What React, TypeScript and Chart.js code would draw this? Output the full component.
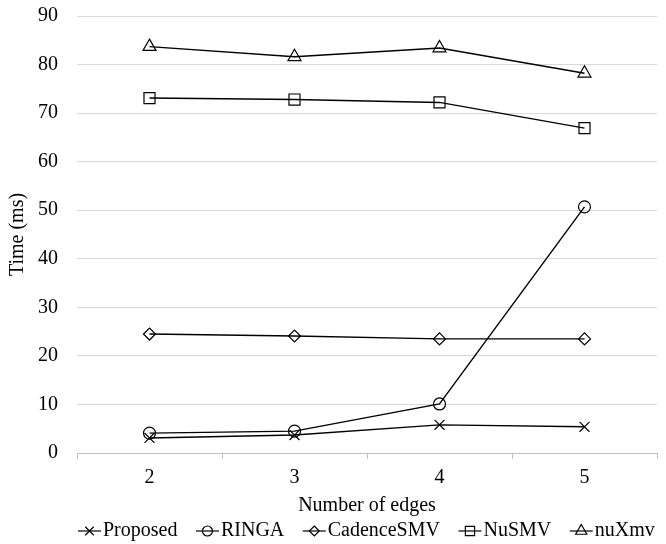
import React, { useEffect, useRef } from "react";
import { Chart, registerables } from "chart.js";

Chart.register(...registerables);

const categories = ["2", "3", "4", "5"];
const proposed = [3.1, 3.7, 5.8, 5.4];
const ringa = [4.1, 4.5, 10.1, 50.7];
const cadenceSMV = [24.5, 24.1, 23.5, 23.5];
const nuSMV = [73.1, 72.8, 72.2, 66.9];
const nuXmv = [83.7, 81.6, 83.4, 78.2];
const seriesNames = ["Proposed", "RINGA", "CadenceSMV", "NuSMV", "nuXmv"];
const yTicks = [0, 10, 20, 30, 40, 50, 60, 70, 80, 90];

const FONT = "'Liberation Serif', 'DejaVu Serif', serif";

const styles = ["crossRot", "circle", "rectRot", "rect", "triangle"];
const radii = [7, 6, 6, 7.8, 7.5];
const legendRadii = [6, 5, 5, 6.5, 6.5];

function drawShape(ctx: CanvasRenderingContext2D, style: string, x: number, y: number, r: number) {
  ctx.beginPath();
  if (style === "crossRot") {
    const o = Math.SQRT1_2 * r;
    ctx.moveTo(x - o, y - o); ctx.lineTo(x + o, y + o);
    ctx.moveTo(x + o, y - o); ctx.lineTo(x - o, y + o);
  } else if (style === "circle") {
    ctx.arc(x, y, r, 0, Math.PI * 2);
  } else if (style === "rectRot") {
    ctx.moveTo(x, y - r); ctx.lineTo(x + r, y); ctx.lineTo(x, y + r); ctx.lineTo(x - r, y); ctx.closePath();
  } else if (style === "rect") {
    const s = Math.SQRT1_2 * r;
    ctx.rect(x - s, y - s, 2 * s, 2 * s);
  } else if (style === "triangle") {
    const w = (r * Math.sqrt(3)) / 2;
    ctx.moveTo(x, y - r); ctx.lineTo(x + w, y + r / 2); ctx.lineTo(x - w, y + r / 2); ctx.closePath();
  }
  ctx.stroke();
}

const legendPlugin = {
  id: "customLegend",
  afterDraw(chart: any) {
    const ctx: CanvasRenderingContext2D = chart.ctx;
    ctx.save();
    ctx.font = `20px ${FONT}`;
    ctx.fillStyle = "#000";
    ctx.strokeStyle = "#000";
    ctx.lineWidth = 1.2;
    ctx.textAlign = "left";
    ctx.textBaseline = "middle";
    const y = 531;
    let x = 78;
    chart.data.datasets.forEach((ds: any, i: number) => {
      ctx.beginPath();
      ctx.moveTo(x, y);
      ctx.lineTo(x + 23, y);
      ctx.stroke();
      drawShape(ctx, styles[i], x + 11.5, y, legendRadii[i]);
      const tx = x + 25;
      ctx.fillText(ds.label, tx, y);
      x = tx + ctx.measureText(ds.label).width + 18.5;
    });
    ctx.restore();
  },
};

export default function App() {
  const ref = useRef<HTMLCanvasElement | null>(null);
  useEffect(() => {
    document.body.style.margin = "0";
    const canvas = ref.current!;
    const values = [proposed, ringa, cadenceSMV, nuSMV, nuXmv];
    const chart = new Chart(canvas, {
      type: "line",
      data: {
        labels: categories,
        datasets: seriesNames.map((name, i) => ({
          label: name,
          data: values[i],
          borderColor: "#000",
          backgroundColor: "transparent",
          borderWidth: 1.4,
          pointStyle: styles[i] as any,
          pointRadius: radii[i],
          pointBorderWidth: 1.2,
          pointBorderColor: "#000",
          pointBackgroundColor: "transparent",
          tension: 0,
        })),
      },
      options: {
        responsive: false,
        animation: false,
        layout: { padding: { top: 16, left: 0, right: 0, bottom: 26 } },
        plugins: {
          tooltip: { enabled: false },
          legend: { display: false },
        },
        scales: {
          x: {
            type: "category",
            offset: true,
            grid: {
              offset: true,
              drawOnChartArea: false,
              drawTicks: true,
              tickLength: 6,
              color: "#bfbfbf",
            },
            border: { display: true, color: "#bfbfbf" },
            ticks: { color: "#000", font: { family: FONT, size: 20 }, padding: 7 },
            title: {
              display: true,
              text: "Number of edges",
              color: "#000",
              font: { family: FONT, size: 20 },
              padding: { top: 0, bottom: 0 },
            },
            afterFit: (s: any) => { s.height = 65; s.paddingLeft = 0; s.paddingRight = 0; },
          },
          y: {
            min: 0,
            max: 90,
            afterBuildTicks: (s: any) => { s.ticks = yTicks.map((v) => ({ value: v })); },
            grid: { color: "#d9d9d9", drawTicks: false },
            border: { display: false },
            ticks: { color: "#000", font: { family: FONT, size: 20 }, padding: 19 },
            title: {
              display: true,
              text: "Time (ms)",
              color: "#000",
              font: { family: FONT, size: 20 },
              padding: { top: 6, bottom: 4 },
            },
            afterFit: (s: any) => { s.width = 77; s.paddingTop = 0; s.paddingBottom = 0; },
          },
        },
      },
      plugins: [legendPlugin],
    });
    return () => chart.destroy();
  }, []);
  return (
    <div style={{ position: "absolute", left: 0, top: 0, width: 666, height: 544 }}>
      <canvas ref={ref} width={666} height={544} style={{ display: "block" }} />
    </div>
  );
}
